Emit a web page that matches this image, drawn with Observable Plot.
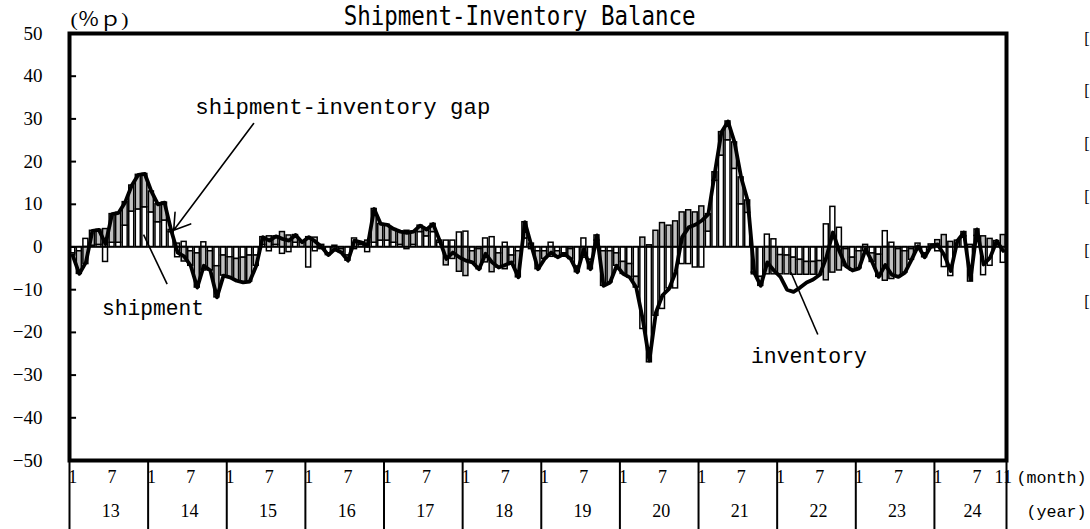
<!DOCTYPE html>
<html><head><meta charset="utf-8">
<script src="https://cdn.jsdelivr.net/npm/d3@7"></script>
<script src="https://cdn.jsdelivr.net/npm/@observablehq/plot@0.6"></script>
<style>html,body{margin:0;padding:0;background:#fff;}svg{display:block}</style>
</head><body><div id="chart"></div>
<script>
// Categories: Jan 2013 .. Nov 2024 (143 months)
const years = ["13","14","15","16","17","18","19","20","21","22","23","24"];
const monthsPerYear = [12,12,12,12,12,12,12,12,12,12,12,11];
const monthTickLabels = ["1","7"];
const lastMonthLabel = "11";
const yTicks = [50,40,30,20,10,0,-10,-20,-30,-40,-50];

// shipment YoY (white bars)
const shipment = [
  -1.5,-1.0,1.9,0.3,0.5,-3.5,1.0,1.0,5.0,8.3,8.8,9.3,
  8.1,5.8,6.2,3.5,-2.4,1.2,-1.0,-1.5,1.1,-1.0,-4.5,-2.0,
  -2.4,-2.8,-2.5,-2.0,-2.0,0.5,-1.0,0.5,-1.6,-1.2,1.0,0.0,
  -4.8,-1.0,0.5,-1.5,0.3,-0.5,-2.0,2.0,0.5,-1.2,1.0,1.5,
  1.5,1.0,0.5,-0.5,0.5,3.5,2.5,3.5,1.0,1.5,1.5,3.4,
  3.6,-1.0,-0.5,2.0,2.3,-1.5,1.0,-2.0,-1.0,2.0,-0.5,-1.0,
  -1.0,1.0,-1.0,-1.5,-0.5,-4.6,2.0,-3.0,1.5,-1.0,-1.0,-1.5,
  -3.5,-4.0,-7.0,-19.2,-27.0,-16.1,-14.5,-9.7,-9.7,-4.0,-4.0,-4.8,
  -4.8,3.6,15.5,21.4,25.0,18.3,10.0,8.0,-6.0,-7.0,2.9,1.8,
  -1.9,-2.0,-2.5,-3.0,-3.5,-3.5,-3.3,5.3,9.4,4.5,-0.5,-2.5,
  -1.0,0.5,-1.5,-1.8,3.7,1.0,-0.5,-1.0,-0.5,0.8,-1.5,-0.3,
  -1.0,-4.7,-6.8,1.5,2.5,-8.1,2.6,-6.6,-4.4,0.5,-3.7
];
// inventory YoY, sign reversed (grey bars)
const inventoryRev = [
  -0.5,-5.3,-4.0,3.5,3.5,4.2,6.7,7.0,5.5,6.1,8.1,7.8,
  4.9,4.2,4.2,0.5,0.8,-3.4,-3.4,-8.0,-5.5,-4.5,-7.3,-4.7,
  -4.7,-5.1,-5.8,-6.1,-2.4,1.8,2.5,2.0,3.5,2.7,1.8,1.1,
  2.3,2.2,-0.5,-0.4,-0.8,-0.8,-1.2,-0.5,0.6,1.5,7.9,3.9,
  3.7,3.2,3.1,3.8,3.1,1.5,1.6,1.9,0.5,-4.3,-2.8,-5.8,
  -6.8,-2.6,-4.7,-3.6,-5.9,-3.3,-5.2,-1.6,-6.1,3.8,0.8,-4.2,
  -1.8,-2.3,-1.4,-0.1,-2.3,-1.3,-2.5,-2.2,1.2,-8.1,-7.3,-2.9,
  -2.8,-3.1,-2.5,2.2,0.4,3.8,5.6,5.0,6.0,8.1,8.6,8.1,
  9.5,4.1,2.0,5.5,4.4,6.2,6.3,2.9,-0.4,-2.1,-6.4,-6.4,
  -4.5,-4.4,-4.0,-3.5,-3.0,-3.0,-3.3,-7.8,-6.0,-5.5,-4.0,-3.0,
  -4.0,-1.0,-2.0,-5.2,-7.9,-7.5,-6.5,-5.0,-2.5,-0.6,-0.9,0.6,
  1.6,2.8,1.2,0.0,1.0,0.5,1.5,2.5,1.9,0.9,2.8
];
// shipment-inventory gap (thick line)
const gap = [
  -2.0,-6.3,-3.6,3.8,4.0,0.7,7.7,8.0,10.5,14.4,16.9,17.1,
  13.0,10.0,10.4,4.0,-1.3,-2.2,-4.4,-9.5,-4.4,-5.5,-11.8,-6.7,
  -7.1,-7.9,-8.3,-8.1,-4.4,2.3,1.5,2.5,1.9,1.5,2.8,1.1,
  2.3,1.3,0.0,-1.9,-0.5,-1.3,-3.2,1.5,1.1,0.3,8.9,5.4,
  5.2,4.2,3.6,3.3,3.6,5.0,4.1,5.4,1.5,-2.8,-1.3,-2.4,
  -3.2,-3.6,-5.2,-1.6,-3.6,-4.8,-4.2,-3.6,-7.1,5.8,0.3,-5.2,
  -2.8,-1.3,-2.4,-1.6,-2.8,-5.9,-0.5,-5.2,2.7,-9.1,-8.3,-4.4,
  -6.3,-7.1,-9.5,-17.0,-26.6,-15.3,-11.3,-9.8,-5.9,2.3,4.6,5.2,
  6.2,7.7,17.5,26.9,29.4,24.5,16.3,10.9,-6.0,-9.1,-3.6,-5.5,
  -7.0,-10.0,-10.5,-9.5,-8.3,-7.6,-6.5,-2.5,3.4,-1.0,-4.5,-5.5,
  -5.0,-0.5,-3.5,-7.0,-4.2,-6.5,-7.0,-6.0,-3.0,0.2,-2.4,0.3,
  0.6,-1.9,-5.6,1.4,3.4,-7.6,4.1,-4.1,-2.5,1.4,-0.9
];

const N = shipment.length;
const rows = [];
shipment.forEach((v, i) => rows.push({m: i, s: "ship", v}));
inventoryRev.forEach((v, i) => rows.push({m: i, s: "inv", v}));
const gapRows = gap.map((v, i) => ({m: i + 0.5, v}));

const yearStarts = [];
{ let acc = 0; monthsPerYear.forEach(n => { yearStarts.push(acc); acc += n; }); yearStarts.push(acc); }
const yearLabels = years.map((y, k) => ({x: (yearStarts[k] + yearStarts[k + 1]) / 2 + 0.3, t: y}));
const monthLabels = [];
years.forEach((y, k) => {
  monthLabels.push({x: yearStarts[k] + 0.5, t: monthTickLabels[0]});
  monthLabels.push({x: yearStarts[k] + 6.5, t: monthTickLabels[1]});
});
monthLabels.push({x: N - 0.5, t: lastMonthLabel});

const fmt = d => d < 0 ? "\u2212" + Math.abs(d) : String(d);
const serif = "Liberation Serif, Noto Sans CJK JP, serif";
const mono = "Liberation Mono, monospace";

const chart = Plot.plot({
  width: 1090, height: 529,
  marginTop: 33, marginBottom: 69, marginLeft: 69, marginRight: 84,
  x: {domain: [0, N], axis: null},
  y: {domain: [-50, 50], axis: null},
  color: {domain: ["ship", "inv"], range: ["#ffffff", "#c0c0c0"]},
  style: {fontFamily: serif, background: "#fff", color: "#000", overflow: "hidden"},
  marks: [
    Plot.rectY(rows, {x1: "m", x2: d => d.m + 1, y: "v", z: "s", fill: "s", stroke: "#000", strokeWidth: 1.5, insetLeft: 0.8, insetRight: 0.8}),
    Plot.ruleY([0], {stroke: "#000", strokeWidth: 1.5}),
    Plot.line(gapRows, {x: "m", y: "v", stroke: "#000", strokeWidth: 3.8, strokeLinejoin: "round"}),
    Plot.link(yTicks.filter(d => Math.abs(d) < 50), {x1: 0, x2: 1.0, y1: d => d, y2: d => d, stroke: "#000", strokeWidth: 2}),
    Plot.frame({stroke: "#000", strokeWidth: 4}),
    Plot.text(yTicks, {x: 0, y: d => d, text: fmt, textAnchor: "end", dx: -27, fontSize: 19, fontFamily: serif}),
    Plot.ruleX(yearStarts, {y1: -50, y2: -70, stroke: "#000", strokeWidth: 2}),
    Plot.text(monthLabels, {x: "x", text: "t", frameAnchor: "bottom", dy: 22, fontSize: 18, fontFamily: serif}),
    Plot.text(yearLabels, {x: "x", text: "t", frameAnchor: "bottom", dy: 56, fontSize: 18, fontFamily: serif}),
    Plot.text(["(month)"], {x: N, frameAnchor: "bottom", dy: 22, dx: 10, textAnchor: "start", fontSize: 17, fontFamily: mono}),
    Plot.text(["(year)"], {x: N, frameAnchor: "bottom", dy: 56, dx: 20, textAnchor: "start", fontSize: 17, fontFamily: mono}),
    Plot.text(["Shipment-Inventory Balance"], {x: 68.7, frameAnchor: "top", lineAnchor: "middle", dy: -16.5, fontSize: 26, fontFamily: "DejaVu Sans Mono, monospace"}),
    Plot.text(["(％ｐ)"], {x: 0, frameAnchor: "top", lineAnchor: "middle", dy: -13.5, dx: 1, textAnchor: "start", fontSize: 19, fontFamily: serif}),
    Plot.text([48.8, 36.6, 24.2, 11.8, -0.8, -12.8], {x: N, y: d => d, text: () => "[", dx: 83, textAnchor: "end", fontSize: 16, fontFamily: serif}),
    // annotations
    Plot.text(["shipment-inventory gap"], {x: 19.2, y: 32.9, textAnchor: "start", fontSize: 22, fontFamily: mono}),
    Plot.arrow([{a: 28.1, b: 28.9, c: 15.9, d: 3.9}], {x1: "a", y1: "b", x2: "c", y2: "d", stroke: "#000", strokeWidth: 1.6, headLength: 17, headAngle: 65}),
    Plot.text(["shipment"], {x: 4.97, y: -14.2, textAnchor: "start", fontSize: 22, fontFamily: mono}),
    Plot.link([{a: 11.3, b: 2.9, c: 14.9, d: -8.7}], {x1: "a", y1: "b", x2: "c", y2: "d", stroke: "#000", strokeWidth: 1.6}),
    Plot.text(["inventory"], {x: 104.0, y: -25.4, textAnchor: "start", fontSize: 22, fontFamily: mono}),
    Plot.link([{a: 114.2, b: -20.5, c: 110.1, d: -5.9}], {x1: "a", y1: "b", x2: "c", y2: "d", stroke: "#000", strokeWidth: 1.6})
  ]
});
const fitText = (str, len) => {
  for (const t of chart.querySelectorAll("text")) {
    if (t.textContent === str) { t.setAttribute("textLength", len); t.setAttribute("lengthAdjust", "spacingAndGlyphs"); }
  }
};
fitText("Shipment-Inventory Balance", 352);
fitText("shipment-inventory gap", 295);
fitText("shipment", 102);
fitText("inventory", 116);
fitText("(％ｐ)", 58);
fitText("(month)", 70);
fitText("(year)", 60);
document.getElementById("chart").appendChild(chart);
</script></body></html>
